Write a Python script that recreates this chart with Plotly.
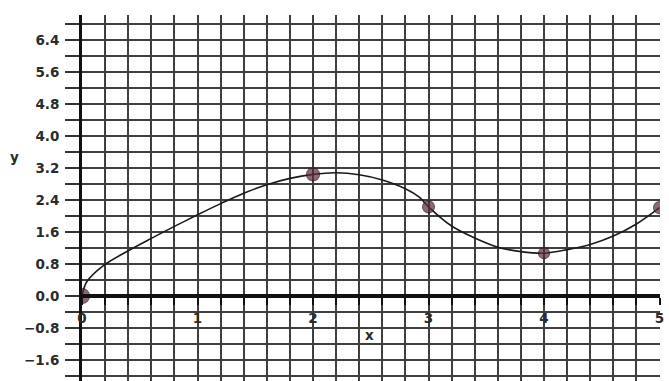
import plotly.graph_objects as go

# Measured points
pt_x = [0, 2, 3, 4, 5]
pt_y = [0, 3.04, 2.23, 1.07, 2.21]

# Smooth hand-drawn curve through the points
curve_x = [0, 0.04, 0.185, 0.4, 0.6, 0.8, 1.0, 1.2, 1.4, 1.6, 1.8, 2.0, 2.2, 2.4,
           2.6, 2.8, 2.92, 3.0, 3.2, 3.4, 3.6, 3.8, 4.0, 4.2, 4.4, 4.6, 4.8, 5.0]
curve_y = [0, 0.35, 0.76, 1.13, 1.44, 1.74, 2.03, 2.31, 2.57, 2.78, 2.94, 3.04, 3.08, 3.03,
           2.9, 2.68, 2.47, 2.23, 1.75, 1.45, 1.22, 1.11, 1.07, 1.16, 1.29, 1.50, 1.80, 2.21]

# Axis ticks
x_tick_vals = [round(i * 0.2, 1) for i in range(26)]
x_tick_text = ["0", "", "", "", "", "1", "", "", "", "", "2", "", "", "", "", "3",
               "", "", "", "", "4", "", "", "", "", "5"]
y_tick_vals = [-2.0, -1.6, -1.2, -0.8, -0.4, 0.0, 0.4, 0.8, 1.2, 1.6, 2.0, 2.4, 2.8,
               3.2, 3.6, 4.0, 4.4, 4.8, 5.2, 5.6, 6.0, 6.4, 6.8]
y_tick_text = ["", "\u22121.6", "", "\u22120.8", "", "0.0", "", "0.8", "", "1.6", "", "2.4", "",
               "3.2", "", "4.0", "", "4.8", "", "5.6", "", "6.4", ""]

X_RANGE = [0, 5.004]
Y_RANGE = [-2.125, 7.025]

ink = "#2b2b2b"
grid = "#3f3f3f"
font = dict(family="DejaVu Sans", size=13.5, color=ink, weight="bold")

fig = go.Figure()
fig.add_trace(go.Scatter(
    x=curve_x, y=curve_y, mode="lines",
    line=dict(color="#1a1a1a", width=1.6, shape="spline", smoothing=0.9),
    hoverinfo="skip", showlegend=False,
))
fig.add_trace(go.Scatter(
    x=pt_x, y=pt_y, mode="markers",
    marker=dict(size=[15, 13, 12, 11, 12], color="#5e2c38",
                line=dict(color="#2e161b", width=1.2)),
    showlegend=False,
))

fig.update_layout(
    width=669, height=381,
    margin=dict(l=82, r=9, t=15, b=0, pad=0),
    plot_bgcolor="white", paper_bgcolor="white",
    font=font,
    xaxis=dict(
        range=X_RANGE, tickmode="array", tickvals=x_tick_vals, ticktext=x_tick_text,
        showgrid=True, gridcolor=grid, gridwidth=1.5, zeroline=False,
        anchor="free", position=(0 - Y_RANGE[0]) / (Y_RANGE[1] - Y_RANGE[0]),
        showline=True, linecolor="#111111", linewidth=3.5,
        ticks="outside", ticklen=7, tickwidth=1.6, tickcolor="#111111",
        tickfont=font, ticklabelstandoff=2,
    ),
    yaxis=dict(
        range=Y_RANGE, tickmode="array", tickvals=y_tick_vals, ticktext=y_tick_text,
        showgrid=True, gridcolor=grid, gridwidth=1.5, zeroline=False,
        showline=True, linecolor="#111111", linewidth=3,
        ticks="outside", ticklen=14, tickwidth=1.8, tickcolor="#333333",
        tickfont=font, ticklabelstandoff=3,
    ),
    annotations=[
        dict(text="x", x=2.49, y=-0.97, xref="x", yref="y", showarrow=False, font=font),
        dict(text="y", x=-0.128, y=3.47, xref="paper", yref="y", showarrow=False, font=font),
    ],
)

fig.write_html("out.html")
